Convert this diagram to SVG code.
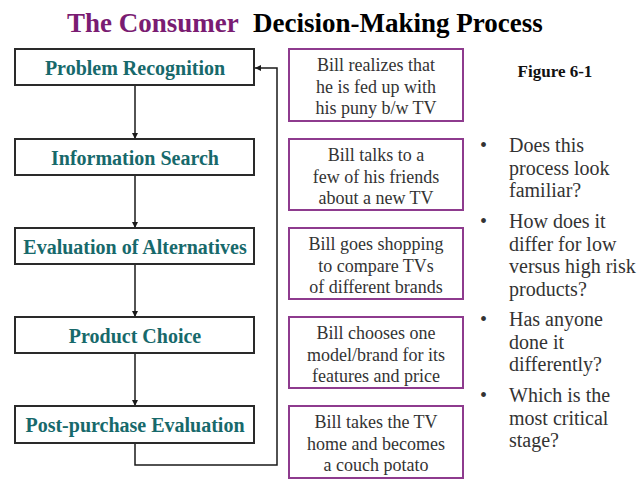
<svg xmlns="http://www.w3.org/2000/svg" width="644" height="488" viewBox="0 0 644 488">
<defs>
<style>
.title{font-family:"Liberation Serif","Times New Roman",serif;font-weight:bold;font-size:27px}
.stage rect{fill:#fff;stroke:#2a2a2a;stroke-width:2}
.stage text{font-family:"Liberation Serif","Times New Roman",serif;font-weight:bold;font-size:20px;fill:#17696b;text-anchor:middle}
.ex rect{fill:#fff;stroke:#8e3b8e;stroke-width:2}
.ex text{font-family:"Liberation Serif","Times New Roman",serif;font-size:18px;fill:#333;text-anchor:middle}
.bul text{font-family:"Liberation Serif","Times New Roman",serif;font-size:20px;fill:#333}
.conn{fill:none;stroke:#1a1a1a;stroke-width:1.5}
</style>
<marker id="ah" viewBox="0 0 10 10" refX="10" refY="5" markerWidth="6" markerHeight="6" orient="auto" markerUnits="userSpaceOnUse">
<path d="M0,0 L10,5 L0,10 Z" fill="#1a1a1a"/>
</marker>
</defs>
<rect width="644" height="488" fill="#fff"/>
<g id="title">
<text class="title" x="67" y="32" fill="#7a1c72">The Consumer</text>
<text class="title" x="253" y="32" fill="#000">Decision-Making Process</text>
</g>
<g id="connectors">
<line class="conn" x1="135" y1="85" x2="135" y2="139" marker-end="url(#ah)"/>
<line class="conn" x1="135" y1="175" x2="135" y2="228" marker-end="url(#ah)"/>
<line class="conn" x1="135" y1="264" x2="135" y2="317" marker-end="url(#ah)"/>
<line class="conn" x1="135" y1="353" x2="135" y2="406" marker-end="url(#ah)"/>
<polyline class="conn" points="135,443 135,465 277,465 277,68 255,68" marker-end="url(#ah)"/>
</g>
<g id="n1" class="stage"><rect x="15" y="49" width="239" height="36"/><text x="135" y="75">Problem Recognition</text></g>
<g id="n2" class="stage"><rect x="15" y="139" width="239" height="36"/><text x="135" y="165">Information Search</text></g>
<g id="n3" class="stage"><rect x="15" y="228" width="239" height="36"/><text x="135" y="254">Evaluation of Alternatives</text></g>
<g id="n4" class="stage"><rect x="15" y="317" width="239" height="36"/><text x="135" y="343">Product Choice</text></g>
<g id="n5" class="stage"><rect x="15" y="406" width="239" height="37"/><text x="135" y="432">Post-purchase Evaluation</text></g>
<g id="e1" class="ex"><rect x="289" y="49" width="174" height="72"/>
<text x="376" y="71">Bill realizes that</text><text x="376" y="92.5">he is fed up with</text><text x="376" y="114">his puny b/w TV</text></g>
<g id="e2" class="ex"><rect x="289" y="139" width="174" height="71"/>
<text x="376" y="161">Bill talks to a</text><text x="376" y="182.5">few of his friends</text><text x="376" y="204">about a new TV</text></g>
<g id="e3" class="ex"><rect x="289" y="228" width="174" height="71"/>
<text x="376" y="250">Bill goes shopping</text><text x="376" y="271.5">to compare TVs</text><text x="376" y="293">of different brands</text></g>
<g id="e4" class="ex"><rect x="289" y="317" width="174" height="71"/>
<text x="376" y="339">Bill chooses one</text><text x="376" y="360.5">model/brand for its</text><text x="376" y="382">features and price</text></g>
<g id="e5" class="ex"><rect x="289" y="406" width="174" height="72"/>
<text x="376" y="428">Bill takes the TV</text><text x="376" y="449.5">home and becomes</text><text x="376" y="471">a couch potato</text></g>
<g id="fig"><text x="555" y="77" font-family="Liberation Serif,Times New Roman,serif" font-weight="bold" font-size="17" text-anchor="middle" fill="#111">Figure 6-1</text></g>
<g id="bullets" class="bul">
<text x="480" y="152">•</text>
<text x="509" y="152">Does this</text><text x="509" y="174.5">process look</text><text x="509" y="197">familiar?</text>
<text x="480" y="228">•</text>
<text x="509" y="228">How does it</text><text x="509" y="250.5">differ for low</text><text x="509" y="273">versus high risk</text><text x="509" y="295.5">products?</text>
<text x="480" y="326">•</text>
<text x="509" y="326">Has anyone</text><text x="509" y="348.5">done it</text><text x="509" y="371">differently?</text>
<text x="480" y="402">•</text>
<text x="509" y="402">Which is the</text><text x="509" y="424.5">most critical</text><text x="509" y="447">stage?</text>
</g>
</svg>
